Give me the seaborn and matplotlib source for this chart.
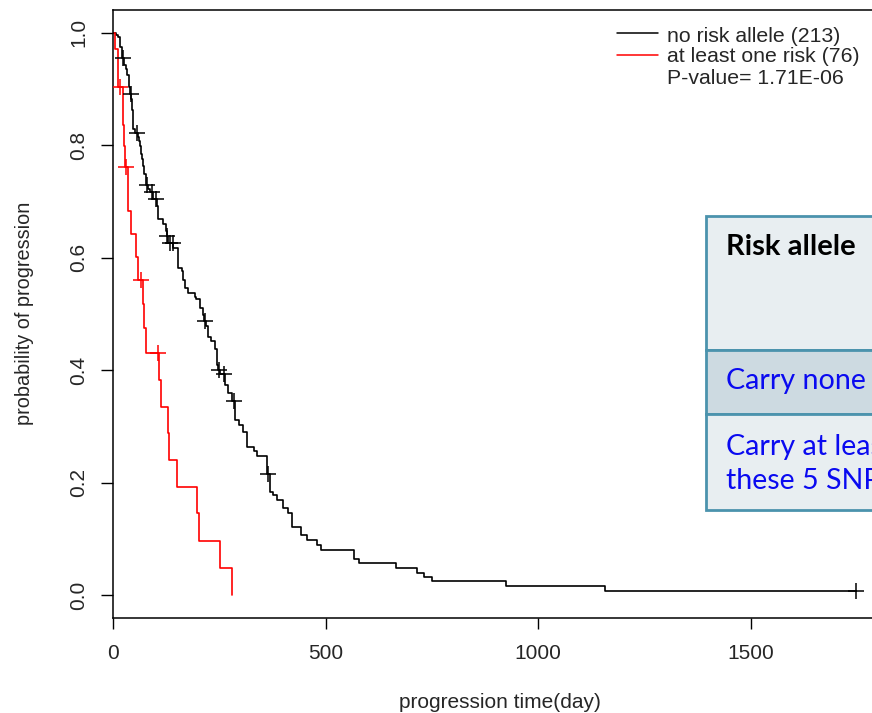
import matplotlib
matplotlib.use("Agg")
import matplotlib.pyplot as plt
import matplotlib.patches as mpatches
import seaborn as sns
import numpy as np
import pandas as pd

# ---- data ----
# group: no risk allele (213)
black_t = [0, 7, 12.5, 16.5, 20, 26, 30.5, 33.6, 37, 39, 43, 44.7, 47.8, 52, 59.5, 62, 63.5, 65.8,
           69, 71, 73.7, 78, 82, 86, 93, 103, 106.5, 118, 124.6, 126, 130, 141.8, 153.6, 161.4,
           165, 169, 177, 192.8, 194.4, 204.6, 212, 215, 219, 224, 230, 240, 245, 247, 252, 263,
           271, 279, 287, 297, 306, 314, 332, 339, 361, 362, 369, 377, 385, 400, 412, 420, 443,
           455, 479, 489, 567, 578, 665, 714, 731, 751, 923, 1158, 1748]
black_s = [1.0, 0.995, 0.992, 0.975, 0.955, 0.942, 0.936, 0.924, 0.904, 0.891, 0.882, 0.862, 0.829,
           0.822, 0.814, 0.808, 0.799, 0.784, 0.775, 0.763, 0.749, 0.729, 0.722, 0.716, 0.704,
           0.692, 0.668, 0.660, 0.648, 0.639, 0.627, 0.618, 0.582, 0.576, 0.561, 0.547, 0.538,
           0.531, 0.526, 0.511, 0.499, 0.487, 0.478, 0.460, 0.452, 0.437, 0.410, 0.400, 0.394,
           0.374, 0.360, 0.345, 0.311, 0.303, 0.291, 0.264, 0.257, 0.247, 0.232, 0.216, 0.184,
           0.178, 0.169, 0.155, 0.146, 0.122, 0.107, 0.098, 0.089, 0.081, 0.064, 0.058, 0.049,
           0.040, 0.033, 0.025, 0.016, 0.008, 0.008]
black_cens_t = [23, 41.5, 55.6, 80, 91, 101, 127, 134, 140, 217, 249, 261, 285, 364, 1748]
black_cens_s = [0.955, 0.891, 0.822, 0.729, 0.716, 0.704, 0.639, 0.627, 0.627, 0.487, 0.400,
                0.394, 0.345, 0.216, 0.008]

# group: at least one risk (76)
red_t = [0, 5, 11, 23, 26, 28, 36, 42, 53, 58, 71, 74, 78, 108, 113, 129, 131, 151, 197, 203, 252, 280]
red_s = [1.0, 0.971, 0.904, 0.835, 0.799, 0.762, 0.683, 0.642, 0.602, 0.561, 0.518, 0.476,
         0.431, 0.383, 0.335, 0.289, 0.240, 0.193, 0.146, 0.096, 0.049, 0.0]
red_cens_t = [16, 30, 67, 105]
red_cens_s = [0.904, 0.762, 0.561, 0.431]

legend_labels = ["no risk allele (213)", "at least one risk (76)"]
pvalue_text = "P-value= 1.71E-06"
x_ticks = [0, 500, 1000, 1500]
y_ticks = [0.0, 0.2, 0.4, 0.6, 0.8, 1.0]
table_header = "Risk allele"
table_rows = ["Carry none of these 5 SNPs", "Carry at least one of\nthese 5 SNPs"]

# ---- figure ----
sns.set_style("white")
plt.rcParams["font.family"] = ["Liberation Sans", "DejaVu Sans"]

W, H = 872, 713
fig = plt.figure(figsize=(W / 100, H / 100), dpi=100)

def fx(px):
    return px / W

def fy(py):
    return 1 - py / H

xmax = 1850
ax_left, ax_right, ax_top, ax_bottom = 113, 113 + xmax * 0.4253, 10, 618
ax = fig.add_axes([fx(ax_left), fy(ax_bottom), (ax_right - ax_left) / W, (ax_bottom - ax_top) / H])
ax.set_xlim(0, xmax)
ax.set_ylim(-0.04, 1.04)

sns.lineplot(x=black_t, y=black_s, drawstyle="steps-post", estimator=None, sort=False,
             color="black", lw=1.2, ax=ax)
sns.lineplot(x=red_t, y=red_s, drawstyle="steps-post", estimator=None, sort=False,
             color="#FF0000", lw=1.2, ax=ax)
sns.scatterplot(x=black_cens_t, y=black_cens_s, marker="+", s=130, color="black",
                linewidth=1.1, ax=ax, zorder=3)
sns.scatterplot(x=red_cens_t, y=red_cens_s, marker="+", s=130, color="#FF0000",
                linewidth=1.1, ax=ax, zorder=3)

for sp in ax.spines.values():
    sp.set_color("black")
    sp.set_linewidth(1.1)

ax.set_xticks(x_ticks)
ax.set_xticklabels([str(v) for v in x_ticks])
ax.set_yticks(y_ticks)
ax.set_yticklabels([f"{v:.1f}" for v in y_ticks])
ax.tick_params(axis="x", direction="out", length=8, width=1, labelsize=15, pad=11,
               bottom=True, color="black")
ax.tick_params(axis="y", direction="out", length=9, width=1, labelsize=15, pad=9,
               left=True, color="black")
for lab in ax.get_yticklabels():
    lab.set_rotation(90)
    lab.set_ha("right")
    lab.set_va("center")
ax.set_xlabel("")
ax.set_ylabel("")

fig.text(fx(500), fy(703), "progression time(day)", ha="center", va="center", fontsize=15)
fig.text(fx(24), fy(313), "probability of progression", ha="center", va="center",
         rotation=90, fontsize=14.3)

# legend (R style, no box)
fig.add_artist(plt.Line2D([fx(617), fx(658)], [fy(33), fy(33)], color="black", lw=1.1))
fig.add_artist(plt.Line2D([fx(617), fx(658)], [fy(55), fy(55)], color="#FF0000", lw=1.1))
fig.text(fx(667), fy(36), legend_labels[0], ha="left", va="center", fontsize=15.3)
fig.text(fx(667), fy(56), legend_labels[1], ha="left", va="center", fontsize=15.3)
fig.text(fx(667), fy(78), pvalue_text, ha="left", va="center", fontsize=15.3)

# table overlay
border = "#4B93AD"
rows = [(216, 350, "#E8EEF1"), (350, 414, "#CDDAE1"), (414, 510, "#E8EEF1")]
for top, bot, col in rows:
    fig.add_artist(mpatches.Rectangle((fx(706), fy(bot)), fx(1100 - 706), (bot - top) / H,
                                      transform=fig.transFigure, facecolor=col,
                                      edgecolor=border, linewidth=2, zorder=5))
fig.text(fx(726), fy(247), table_header, ha="left", va="center", fontsize=21,
         fontweight="bold", family=["Lato", "DejaVu Sans"], color="black", zorder=6)
fig.text(fx(726), fy(381), table_rows[0], ha="left", va="center", fontsize=20.6,
         family=["Lato", "DejaVu Sans"], color="#0A0AF0", zorder=6)
fig.text(fx(726), fy(464), table_rows[1], ha="left", va="center", fontsize=20.6,
         family=["Lato", "DejaVu Sans"], color="#0A0AF0", zorder=6, linespacing=1.4)

fig.savefig("out.png", dpi=100)
